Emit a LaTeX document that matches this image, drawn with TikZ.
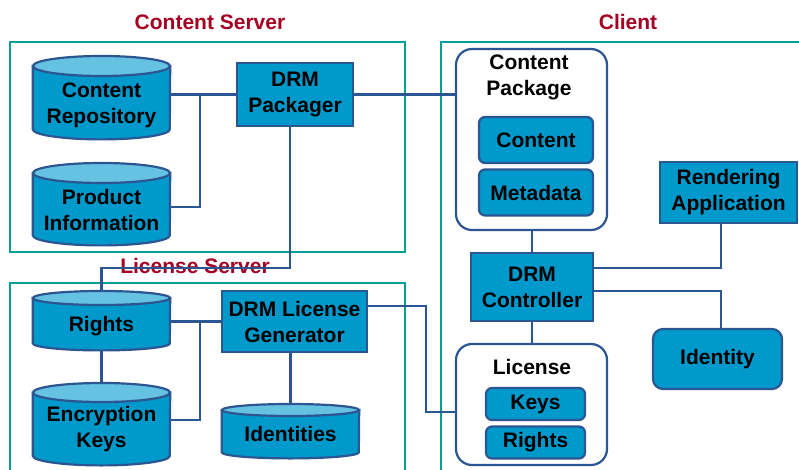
\documentclass[tikz,border=0pt]{standalone}
\usepackage{fontspec}
\setmainfont{Liberation Sans}

\definecolor{drmfill}{RGB}{0,153,204}
\definecolor{drmtop}{RGB}{102,194,226}
\definecolor{drmline}{RGB}{44,86,146}
\definecolor{frameteal}{RGB}{0,160,152}
\definecolor{titlered}{RGB}{165,0,33}

\tikzset{
  box/.style={draw=drmline, fill=drmfill, line width=2.2pt, align=center, inner sep=0pt},
  part/.style={box, rounded corners=6pt},
  store/.style={draw=drmline, fill=drmfill, line width=2.2pt},
  storetop/.style={draw=drmline, fill=drmtop, line width=2.2pt},
  holder/.style={draw=drmline, fill=white, rounded corners=16pt, line width=2.2pt, inner sep=0pt},
  frame/.style={draw=frameteal, line width=2.2pt},
  title/.style={text=titlered},
  link/.style={draw=drmline, line width=2.4pt},
}

% drum: name, x, top y, height, end radius
\newcommand{\drum}[5]{%
  \node[minimum width=137pt, minimum height=#4pt, inner sep=0pt, anchor=north] (#1) at (#2,#3) {};
  \path[store] ([yshift=-#5pt]#1.north west) -- ([yshift=#5pt]#1.south west)
    arc[start angle=180, end angle=360, x radius=68.5pt, y radius=#5pt]
    -- ([yshift=-#5pt]#1.north east) -- cycle;
  \path[storetop] ([yshift=-#5pt]#1.north) ellipse[x radius=68.5pt, y radius=#5pt];
}

\begin{document}
\begin{tikzpicture}[x=1pt,y=-1pt,every node/.style={font=\fontsize{21}{26}\selectfont\bfseries,align=center}]
	\useasboundingbox (0,0) rectangle (799,470);
	\clip (0,0) rectangle (799,470);

	% the three frames
	\draw[frame] (10,42) rectangle (405,252);
	\draw[frame] (10,283) rectangle (405,490);
	\draw[frame] (441,42) rectangle (820,490);
	\node[title] (tcs) at (210,22) {Content Server};
	\node[title] (tls) at (195,266) {License Server};
	\node[title] (tcl) at (628,22) {Client};

	% content server
	\drum{crepo}{101.5}{56}{83}{10}
	\node (crepot) at (101.5,105) {Content\\Repository};
	\drum{prod}{101.5}{163}{82}{10}
	\node (prodt) at (101.5,210) {Product\\Information};
	\node[box, minimum width=116pt, minimum height=63pt] (pack) at (295,94.5) {DRM\\Packager};

	% license server
	\drum{rights}{101.5}{291}{59}{7}
	\node (rightst) at (101.5,326) {Rights};
	\drum{enc}{101.5}{383}{82}{9.5}
	\node (enct) at (101.5,429) {Encryption\\Keys};
	\node[box, minimum width=145pt, minimum height=61pt] (lgen) at (294.5,321.5) {DRM License\\Generator};
	\drum{idents}{290.5}{404}{54}{6}
	\node (identst) at (290.5,434) {Identities};

	% client
	\node[holder, minimum width=151pt, minimum height=181pt] (cpkg) at (531.5,139.5) {};
	\node (cpkgt) at (529,77) {Content\\Package};
	\node[part, minimum width=114pt, minimum height=46pt] (cont) at (536,140) {Content};
	\node[part, minimum width=114pt, minimum height=46pt] (meta) at (536,192.5) {Metadata};
	\node[box, minimum width=122pt, minimum height=68pt] (ctrl) at (532,287) {DRM\\Controller};
	\node[box, minimum width=137pt, minimum height=61pt] (rend) at (728.5,192.5) {Rendering\\Application};
	\node[box, rounded corners=10pt, minimum width=129pt, minimum height=60pt] (ident) at (717.5,359) {Identity};
	\node[holder, minimum width=151pt, minimum height=121pt] (lic) at (531.5,404.5) {};
	\node (lict) at (532,367) {License};
	\node[part, minimum width=99pt, minimum height=32pt] (keys) at (535.5,404) {Keys};
	\node[part, minimum width=99pt, minimum height=32pt] (crights) at (535.5,442.5) {Rights};

	% connectors
	\coordinate (cj) at (200,94.5);
	\coordinate (pj) at (200,207);
	\draw[link] (crepo.east |- pack.west) -- (pack.west);
	\draw[link] (pj -| prod.east) -- (pj) -- (cj);
	\draw[link] (pack.east) -- (cpkg.west |- pack.east);
	\coordinate (pk) at (290,268);
	\draw[link] (pk |- pack.south) -- (pk) -| (rights.north);
	\coordinate (lj) at (200,321.5);
	\coordinate (ej) at (200,420);
	\draw[link] (rights.east |- lgen.west) -- (lgen.west);
	\draw[link] (ej -| enc.east) -- (ej) -- (lj);
	\draw[link] (rights.south) -- (enc.north);
	\draw[link] (lgen.south -| idents.north) -- (idents.north);
	\coordinate (lk) at (426,412);
	\draw[link] ([yshift=15.5pt]lgen.east) -| (lk) -- (lk -| lic.west);
	\draw[link] (ctrl.north |- cpkg.south) -- (ctrl.north);
	\draw[link] (ctrl.south) -- (ctrl.south |- lic.north);
	\coordinate (rj) at (721,268);
	\draw[link] (rj |- rend.south) -- (rj) -- (rj -| ctrl.east);
	\coordinate (ij) at (721,291);
	\draw[link] (ij -| ctrl.east) -- (ij) -- (ij |- ident.north);
\end{tikzpicture}
\end{document}
